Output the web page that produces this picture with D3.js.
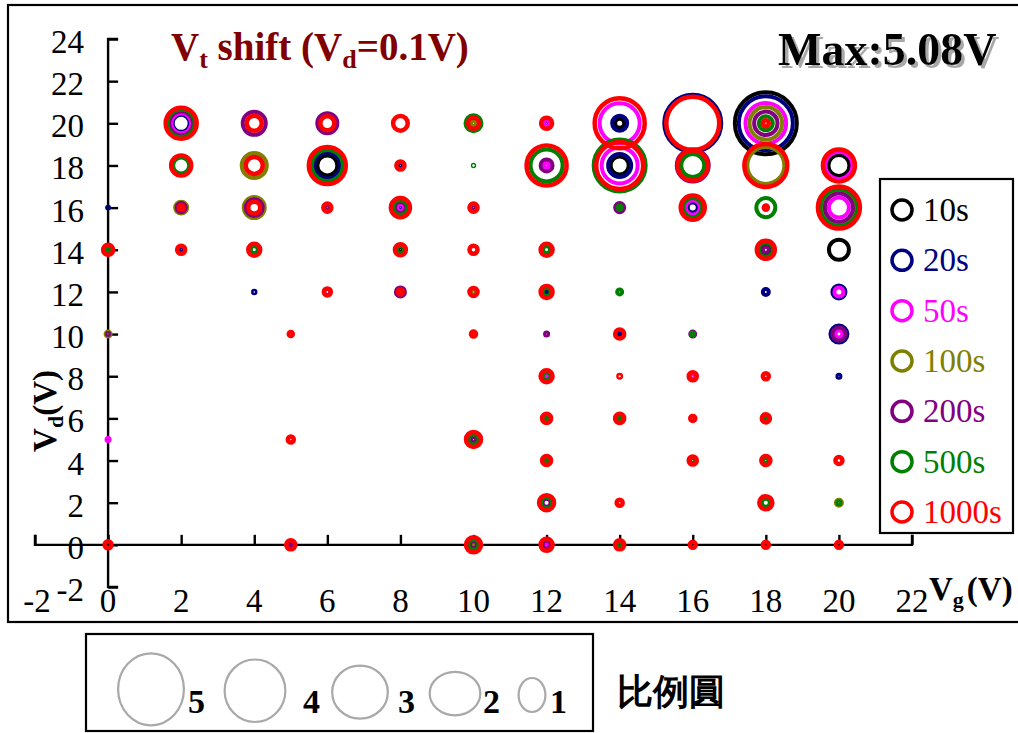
<!DOCTYPE html>
<html>
<head>
<meta charset="utf-8">
<script src="https://cdn.jsdelivr.net/npm/d3@7"></script>
<style>
  body { margin: 0; background: #fff; }
  svg { display: block; }
  text { font-family: "Liberation Serif", "Times New Roman", serif; }
</style>
</head>
<body>
<svg id="chart" width="1018" height="733"></svg>
<script>
// ---- data -------------------------------------------------------------
const xTicks = [-2, 0, 2, 4, 6, 8, 10, 12, 14, 16, 18, 20, 22];
const yTicks = [-2, 0, 2, 4, 6, 8, 10, 12, 14, 16, 18, 20, 22, 24];
const seriesNames = ["10s", "20s", "50s", "100s", "200s", "500s", "1000s"];
const maxShift = 5.08;
const scaleSteps = [5, 4, 3, 2, 1];

// [Vg, Vd, Vt shift (V)] for each stress time
const s10 = [
  [14, 20, 0.74], [18, 20, 5.08], [6, 18, 1.64], [14, 18, 1.48], [20, 18, 1.72],
  [8, 14, 0.25], [18, 14, 0.90], [20, 14, 1.64]
];
const s20 = [
  [2, 20, 1.39], [12, 20, 0.25], [14, 20, 1.23], [16, 20, 4.67], [18, 20, 4.43],
  [6, 18, 2.13], [8, 18, 0.25], [14, 18, 1.89], [0, 16, 0.16], [8, 16, 0.25],
  [16, 16, 0.82], [2, 14, 0.25], [4, 12, 0.20], [12, 12, 0.33], [18, 12, 0.49],
  [20, 12, 1.07], [14, 10, 0.33], [20, 10, 1.39], [20, 8, 0.25], [16, 0, 0.16]
];
const s50 = [
  [2, 20, 1.64], [12, 20, 0.49], [14, 20, 3.28], [18, 20, 3.33], [12, 18, 0.41],
  [14, 18, 2.95], [20, 18, 2.21], [8, 16, 0.57], [16, 16, 1.15], [20, 16, 1.64],
  [20, 12, 0.74], [20, 10, 0.57], [12, 8, 0.33], [16, 8, 0.25], [0, 5, 0.25],
  [12, 0, 0.33]
];
const s100 = [
  [10, 20, 0.41], [18, 20, 2.67], [4, 18, 2.05], [18, 18, 3.03], [2, 16, 0.98],
  [4, 16, 1.72], [20, 16, 2.70], [10, 12, 0.25], [0, 10, 0.41], [20, 2, 0.49],
  [10, 0, 0.33]
];
const s200 = [
  [2, 20, 1.97], [4, 20, 1.89], [6, 20, 1.64], [18, 20, 1.92], [12, 18, 0.98],
  [16, 18, 2.62], [2, 16, 0.74], [4, 16, 1.39], [6, 16, 0.25], [8, 16, 0.90],
  [10, 16, 0.25], [14, 16, 0.74], [20, 16, 2.30], [18, 14, 0.49], [6, 12, 0.16],
  [8, 12, 0.74], [0, 10, 0.16], [12, 10, 0.25], [16, 10, 0.41], [20, 10, 1.07],
  [10, 5, 0.41], [12, 2, 0.66], [5, 0, 0.33], [10, 0, 0.57], [12, 0, 0.66]
];
const s500 = [
  [2, 20, 2.21], [10, 20, 1.31], [18, 20, 1.15], [2, 18, 1.31], [6, 18, 2.54],
  [10, 18, 0.11], [12, 18, 2.62], [14, 18, 4.26], [16, 18, 1.89], [8, 16, 1.15],
  [14, 16, 0.33], [16, 16, 1.56], [18, 16, 1.56], [20, 16, 3.03], [0, 14, 0.41],
  [4, 14, 0.57], [8, 14, 0.57], [12, 14, 0.57], [18, 14, 1.15], [12, 12, 0.66],
  [14, 12, 0.41], [16, 10, 0.25], [12, 8, 0.66], [12, 6, 0.33], [14, 6, 0.33],
  [18, 6, 0.33], [10, 5, 0.82], [12, 4, 0.33], [16, 4, 0.25], [18, 4, 0.41],
  [12, 2, 0.90], [18, 2, 0.66], [20, 2, 0.25], [10, 0, 0.82], [14, 0, 0.25]
];
const s1000 = [
  [2, 20, 2.54], [4, 20, 1.23], [6, 20, 1.15], [8, 20, 1.20], [10, 20, 0.90],
  [12, 20, 0.90], [14, 20, 4.10], [16, 20, 4.34], [18, 20, 0.49], [2, 18, 1.64],
  [4, 18, 1.39], [6, 18, 3.03], [8, 18, 0.66], [12, 18, 3.28], [14, 18, 3.85],
  [16, 18, 2.46], [18, 18, 3.52], [20, 18, 2.62], [2, 16, 0.41], [4, 16, 0.98],
  [6, 16, 0.66], [8, 16, 1.56], [10, 16, 0.66], [16, 16, 1.97], [18, 16, 0.33],
  [20, 16, 3.44], [0, 14, 0.82], [2, 14, 0.66], [4, 14, 0.98], [8, 14, 0.90],
  [10, 14, 0.66], [12, 14, 0.98], [18, 14, 1.48], [6, 12, 0.57], [8, 12, 0.41],
  [10, 12, 0.66], [12, 12, 0.98], [5, 10, 0.33], [10, 10, 0.41], [14, 10, 0.74],
  [12, 8, 0.98], [14, 8, 0.20], [16, 8, 0.66], [18, 8, 0.49], [12, 6, 0.74],
  [14, 6, 0.74], [16, 6, 0.41], [18, 6, 0.66], [5, 5, 0.49], [10, 5, 1.23],
  [12, 4, 0.74], [16, 4, 0.66], [18, 4, 0.74], [20, 4, 0.57], [12, 2, 1.23],
  [14, 2, 0.49], [18, 2, 1.07], [0, 0, 0.57], [5, 0, 0.74], [10, 0, 1.23],
  [12, 0, 0.98], [14, 0, 0.74], [16, 0, 0.49], [18, 0, 0.49], [20, 0, 0.49]
];
const seriesData = [s10, s20, s50, s100, s200, s500, s1000];

// ---- styling ----------------------------------------------------------
const seriesColors = ["#000000", "#000080", "#ff00ff", "#808000", "#800080", "#008000", "#ff0000"];
const ringWidths = [4, 4, 4, 4, 4, 4, 4.5];

const svg = d3.select("#chart");

// drop shadow used by the maximum-shift note
const shadow = svg.append("defs").append("filter").attr("id", "textShadow")
  .attr("x", "-5%").attr("y", "-20%").attr("width", "115%").attr("height", "150%");
shadow.append("feOffset").attr("in", "SourceAlpha").attr("dx", 2.5).attr("dy", 2.5).attr("result", "off");
shadow.append("feFlood").attr("flood-color", "#a8a8a8").attr("result", "col");
shadow.append("feComposite").attr("in", "col").attr("in2", "off").attr("operator", "in").attr("result", "sh");
const merge = shadow.append("feMerge");
merge.append("feMergeNode").attr("in", "sh");
merge.append("feMergeNode").attr("in", "SourceGraphic");

// outer frame
svg.append("rect")
  .attr("x", 8).attr("y", 5).attr("width", 1030).attr("height", 617)
  .attr("fill", "none").attr("stroke", "#000").attr("stroke-width", 2.2);

// scales
const x = d3.scaleLinear().domain([-2, 22]).range([35, 912]);
const y = d3.scaleLinear().domain([-2, 24]).range([587, 39]);
const r = d3.scaleLinear().domain([0, maxShift]).range([0, 31]);

// x axis along Vd = 0, ticks pointing up
const xAxis = d3.axisTop(x).tickValues(xTicks).tickSize(10).tickFormat("");
const gx = svg.append("g").attr("transform", `translate(0,${y(0)})`).call(xAxis);
gx.select(".domain").attr("d", `M${x(-2)},-10V0H${x(22)}V-10`);
gx.selectAll("line, path").attr("stroke", "#000").attr("stroke-width", 2.4);

// y axis along Vg = 0, ticks pointing right
const yAxis = d3.axisRight(y).tickValues(yTicks).tickSize(10).tickFormat("");
const gy = svg.append("g").attr("transform", `translate(${x(0)},0)`).call(yAxis);
gy.select(".domain").attr("d", `M10,${y(24)}H0V${y(-2)}H10`);
gy.selectAll("line, path").attr("stroke", "#000").attr("stroke-width", 2.4);

// tick labels
svg.append("g").selectAll("text").data(xTicks).join("text")
  .attr("x", d => x(d) + (d === -2 ? 2 : 0)).attr("y", 612)
  .attr("text-anchor", "middle").attr("font-size", 33)
  .text(d => d);
svg.append("g").selectAll("text").data(yTicks).join("text")
  .attr("x", 84).attr("y", d => y(d) + 14)
  .attr("text-anchor", "end").attr("font-size", 33)
  .text(d => d);

// axis titles
const xt = svg.append("text").attr("x", 929).attr("y", 600)
  .attr("font-size", 33).attr("font-weight", "bold");
xt.append("tspan").text("V");
xt.append("tspan").attr("font-size", 22).attr("dy", 7).text("g");
xt.append("tspan").attr("dy", -7).attr("dx", 3).text("(V)");

const yt = svg.append("text").attr("transform", "translate(56,411) rotate(-90)")
  .attr("text-anchor", "middle").attr("font-size", 33).attr("font-weight", "bold");
yt.append("tspan").text("V");
yt.append("tspan").attr("font-size", 22).attr("dy", 7).text("d");
yt.append("tspan").attr("dy", -7).text("(V)");

// rings: one layer per stress time, longer times on top
seriesData.forEach((pts, i) => {
  svg.append("g").attr("class", "series-" + seriesNames[i])
    .selectAll("circle").data(pts).join("circle")
    .attr("cx", d => x(d[0])).attr("cy", d => y(d[1])).attr("r", d => r(d[2]))
    .attr("fill", "none").attr("stroke", seriesColors[i]).attr("stroke-width", ringWidths[i]);
});

// chart title
const tt = svg.append("text").attr("x", 171).attr("y", 60)
  .attr("font-size", 39).attr("font-weight", "bold").attr("fill", "#800000");
tt.append("tspan").text("V");
tt.append("tspan").attr("font-size", 26).attr("dy", 8).text("t");
tt.append("tspan").attr("dy", -8).text(" shift (V");
tt.append("tspan").attr("font-size", 26).attr("dy", 8).text("d");
tt.append("tspan").attr("dy", -8).text("=0.1V)");

// maximum shift note
svg.append("text").attr("x", 778).attr("y", 65)
  .attr("font-size", 46).attr("font-weight", "bold").attr("fill", "#000")
  .attr("filter", "url(#textShadow)")
  .text("Max:" + maxShift.toFixed(2) + "V");

// series legend
const lg = svg.append("g");
lg.append("rect").attr("x", 880).attr("y", 179).attr("width", 133).attr("height", 354)
  .attr("fill", "#fff").attr("stroke", "#000").attr("stroke-width", 2.2);
const ly = d3.scalePoint().domain(seriesNames).range([210, 512]);
seriesNames.forEach((name, i) => {
  lg.append("circle").attr("cx", 902).attr("cy", ly(name)).attr("r", 10)
    .attr("fill", "none").attr("stroke", seriesColors[i]).attr("stroke-width", 3.5);
  lg.append("text").attr("x", 923).attr("y", ly(name) + 11)
    .attr("font-size", 33).attr("fill", seriesColors[i]).text(name);
});

// size key (比例圓)
const key = svg.append("g");
key.append("rect").attr("x", 86).attr("y", 634).attr("width", 507).attr("height", 97)
  .attr("fill", "#fff").attr("stroke", "#000").attr("stroke-width", 2.2);
const keyCx = [151, 255, 360, 455, 532];
const keyLabelX = [188, 303, 398, 483, 550];
const keyRx = d3.scaleLinear().domain([1, 2, 5]).range([13.4, 25.3, 32.9]);
const keyRy = d3.scaleLinear().domain([1, 5]).range([17, 36]);
scaleSteps.forEach((v, i) => {
  key.append("ellipse").attr("cx", keyCx[i]).attr("cy", 695 - (keyRy(v) - 17) * 0.3)
    .attr("rx", keyRx(v)).attr("ry", keyRy(v))
    .attr("fill", "none").attr("stroke", "#a9a9a9").attr("stroke-width", 2.2);
  key.append("text").attr("x", keyLabelX[i]).attr("y", 713)
    .attr("font-size", 34).attr("font-weight", "bold").text(v);
});
svg.append("text").attr("x", 617).attr("y", 704)
  .attr("font-family", "'Noto Sans CJK TC', 'Noto Sans CJK SC', sans-serif")
  .attr("font-size", 36).attr("font-weight", "bold").text("比例圓");
</script>
</body>
</html>
